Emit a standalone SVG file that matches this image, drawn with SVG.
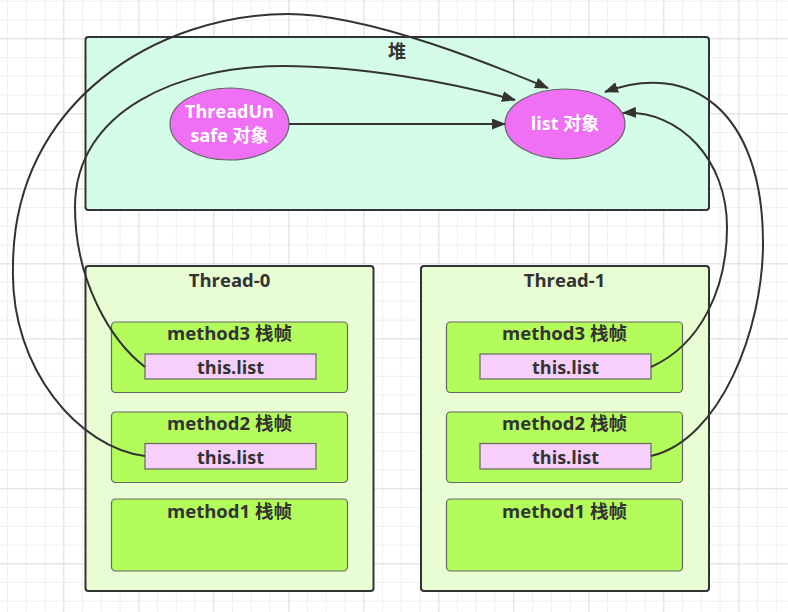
<svg xmlns="http://www.w3.org/2000/svg" width="788" height="612" viewBox="0 0 788 612">
<defs>
<pattern id="minor" x="-11.7" y="0.8" width="18.75" height="18.75" patternUnits="userSpaceOnUse">
<path d="M0,0.5 H18.75 M0.5,0 V18.75" stroke="#efefef" stroke-width="1" fill="none"/>
</pattern>
<pattern id="major" x="-11.7" y="38.3" width="75" height="75" patternUnits="userSpaceOnUse">
<path d="M0,0.5 H75 M0.5,0 V75" stroke="#e0e0e0" stroke-width="1" fill="none"/>
</pattern>
<marker id="arr" viewBox="0 0 14 11" refX="13" refY="5.5" markerWidth="14" markerHeight="11" markerUnits="userSpaceOnUse" orient="auto">
<path d="M0,0 L14,5.5 L0,11 Z" fill="#333333"/>
</marker>
<style>
.t{font-family:"Open Sans","Noto Sans CJK SC",sans-serif;font-weight:bold;font-size:18px;fill:#333333;text-anchor:middle}
.m{font-size:18.5px}
.w{fill:#ffffff}
.heap{fill:#d4fce8;stroke:#333333;stroke-width:2}
.thr{fill:#e9fdd4;stroke:#333333;stroke-width:2}
.frm{fill:#b3fc5b;stroke:#666666;stroke-width:1.2}
.ref{fill:#f6d0fb;stroke:#666666;stroke-width:1.2}
.obj{fill:#ef70f5;stroke:#666666;stroke-width:1.2}
.c{fill:none;stroke:#333333;stroke-width:2;marker-end:url(#arr)}
</style>
</defs>
<rect width="788" height="612" fill="#ffffff"/>
<rect width="788" height="612" fill="url(#minor)"/>
<rect width="788" height="612" fill="url(#major)"/>

<g id="heap">
<rect class="heap" x="85.5" y="37" width="623.5" height="173" rx="3"/>
<text class="t" x="397" y="58">堆</text>
</g>
<g id="threadunsafe">
<ellipse class="obj" cx="229.5" cy="124" rx="59.5" ry="36"/>
<text class="t w" x="229.5" y="118">ThreadUn</text>
<text class="t w" x="229.5" y="142">safe 对象</text>
</g>
<g id="listobj">
<ellipse class="obj" cx="565" cy="124" rx="60" ry="35"/>
<text class="t w" x="565" y="130">list 对象</text>
</g>

<g id="thread0">
<rect class="thr" x="85.5" y="266" width="288" height="325" rx="3"/>
<text class="t m" x="229.5" y="287">Thread-0</text>
</g>
<g id="t0m3">
<rect class="frm" x="111.5" y="322" width="236" height="70.5" rx="4"/>
<text class="t m" x="229.5" y="340">method3 栈帧</text>
</g>
<g id="t0m3ref">
<rect class="ref" x="145" y="354" width="171" height="25"/>
<text class="t" x="230.5" y="374">this.list</text>
</g>
<g id="t0m2">
<rect class="frm" x="111.5" y="412" width="236" height="70.5" rx="4"/>
<text class="t m" x="229.5" y="430">method2 栈帧</text>
</g>
<g id="t0m2ref">
<rect class="ref" x="145" y="443.5" width="171" height="25.5"/>
<text class="t" x="230.5" y="464">this.list</text>
</g>
<g id="t0m1">
<rect class="frm" x="111.5" y="499" width="236" height="72" rx="4"/>
<text class="t m" x="229.5" y="518">method1 栈帧</text>
</g>

<g id="thread1">
<rect class="thr" x="421" y="266" width="288" height="325" rx="3"/>
<text class="t m" x="564.5" y="287">Thread-1</text>
</g>
<g id="t1m3">
<rect class="frm" x="446.5" y="322" width="236" height="70.5" rx="4"/>
<text class="t m" x="564.5" y="340">method3 栈帧</text>
</g>
<g id="t1m3ref">
<rect class="ref" x="480" y="354" width="171" height="25"/>
<text class="t" x="565.5" y="374">this.list</text>
</g>
<g id="t1m2">
<rect class="frm" x="446.5" y="412" width="236" height="70.5" rx="4"/>
<text class="t m" x="564.5" y="430">method2 栈帧</text>
</g>
<g id="t1m2ref">
<rect class="ref" x="480" y="443.5" width="171" height="25.5"/>
<text class="t" x="565.5" y="464">this.list</text>
</g>
<g id="t1m1">
<rect class="frm" x="446.5" y="499" width="236" height="72" rx="4"/>
<text class="t m" x="564.5" y="518">method1 栈帧</text>
</g>

<g id="connectors">
<path class="c" d="M289,124 L505,124"/>
<path class="c" d="M145,367 C110,340 75,280 75,207 C75,110 180,66 283,66 C360,66 450,82 515,100"/>
<path class="c" d="M145,456 C80,448 10,370 13,267 C13,100 160,14 288,14 C370,14 500,68 548,88"/>
<path class="c" d="M651,367 C700,345 727,290 727,227 C727,160 680,110 623,113"/>
<path class="c" d="M651,456 C720,440 763,330 763,243 C763,110 690,60 605,92"/>
</g>
</svg>
